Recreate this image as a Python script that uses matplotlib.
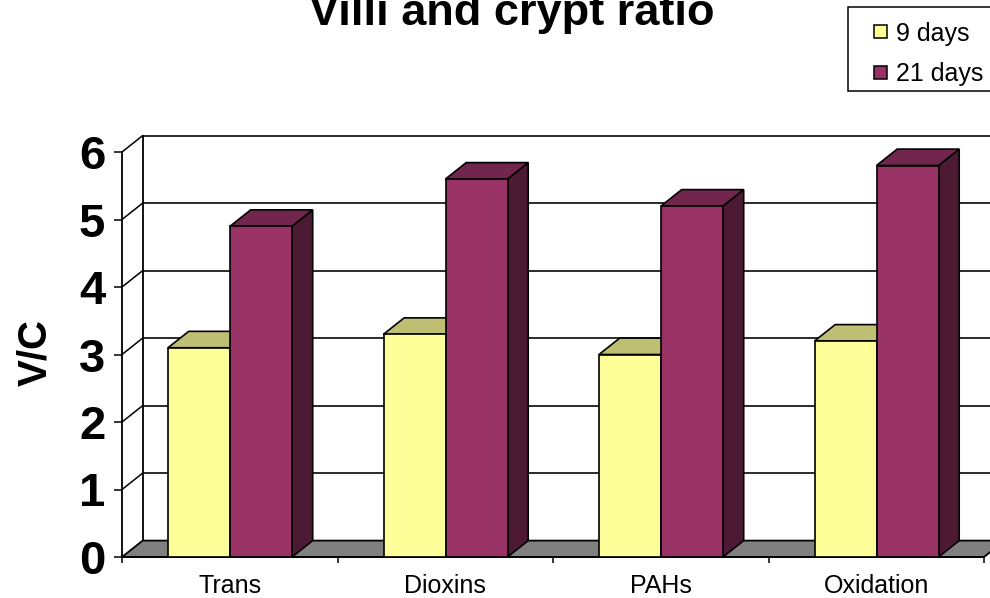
import matplotlib.pyplot as plt
from matplotlib.patches import Polygon, Rectangle

categories = ["Trans", "Dioxins", "PAHs", "Oxidation"]
series = ["9 days", "21 days"]
days_9 = [3.1, 3.3, 3.0, 3.2]
days_21 = [4.9, 5.6, 5.2, 5.8]
y_ticks = [0, 1, 2, 3, 4, 5, 6]

front_cols = ["#FFFF99", "#993366"]
top_cols = ["#BFBF73", "#73264D"]
side_cols = ["#BFBF73", "#4D1A33"]

plt.rcParams["font.family"] = ["Liberation Sans", "DejaVu Sans"]

fig = plt.figure(figsize=(9.9, 5.98), dpi=100)
W, H = 990, 598
ax = fig.add_axes([122 / W, 41 / H, 862 / W, 405 / H])
ax.set_xlim(0, len(categories))
ax.set_ylim(0, 6)

# depth offset of the 3d box, in data units
dx, dy = 0.096, 0.243
n = len(categories)
lw = 1.3

# back wall
ax.add_patch(Polygon([(dx, dy), (n + dx, dy), (n + dx, 6 + dy), (dx, 6 + dy)],
                     closed=True, facecolor="white", edgecolor="none",
                     clip_on=False, zorder=0))
for k in y_ticks[1:]:
    ax.plot([dx, n + dx], [k + dy, k + dy], color="#1a1a1a", lw=lw,
            clip_on=False, zorder=1)
    ax.plot([0, dx], [k, k + dy], color="black", lw=1.1, clip_on=False, zorder=1)
ax.plot([dx, dx], [dy, 6 + dy], color="black", lw=lw, clip_on=False, zorder=1)

# floor
ax.add_patch(Polygon([(0, 0), (n, 0), (n + dx, dy), (dx, dy)], closed=True,
                     facecolor="#808080", edgecolor="black", lw=lw,
                     clip_on=False, zorder=2))

# bars
bw = 0.2877
off = 0.2135
for i in range(n):
    for j, vals in enumerate([days_9, days_21]):
        v = vals[i]
        x0 = i + off + j * bw
        side = Polygon([(x0 + bw, 0), (x0 + bw + dx, dy), (x0 + bw + dx, v + dy),
                        (x0 + bw, v)], closed=True, facecolor=side_cols[j],
                       edgecolor="black", lw=1.2, clip_on=False, zorder=3)
        top = Polygon([(x0, v), (x0 + bw, v), (x0 + bw + dx, v + dy),
                       (x0 + dx, v + dy)], closed=True, facecolor=top_cols[j],
                      edgecolor="black", lw=1.2, clip_on=False, zorder=3)
        front = Rectangle((x0, 0), bw, v, facecolor=front_cols[j],
                          edgecolor="black", lw=1.2, clip_on=False, zorder=3)
        ax.add_patch(side)
        ax.add_patch(top)
        ax.add_patch(front)

ax.spines[["top", "right"]].set_visible(False)
ax.spines[["left", "bottom"]].set_linewidth(lw)
ax.spines["bottom"].set_zorder(2.5)
ax.set_yticks(y_ticks, labels=[str(t) for t in y_ticks])
ax.set_xticks(range(n + 1), labels=[""] * (n + 1))
ax.tick_params(axis="y", direction="out", length=6, width=1.1, pad=6,
               labelsize=34)
ax.tick_params(axis="x", direction="out", length=4.5, width=1.1)
for lab in ax.get_yticklabels():
    lab.set_fontweight("bold")

for i, c in enumerate(categories):
    ax.text(i + 0.5, -36 / 405, c, transform=ax.get_xaxis_transform(),
            ha="center", va="baseline", fontsize=18)

fig.text(35 / W, 1 - 353 / H, "V/C", rotation=90, ha="center", va="center",
         fontsize=29, fontweight="bold")
# title sits partly above the top edge, as in the original
fig.text(512 / W, 1 - 25 / H, "Villi and crypt ratio", ha="center",
         va="baseline", fontsize=32.5, fontweight="bold")

# legend box, drawn by hand so it runs off the right edge like the original
fig.add_artist(Rectangle((848 / W, 1 - 91 / H), 170 / W, 84 / H,
                         transform=fig.transFigure, facecolor="white",
                         edgecolor="black", lw=1.1))
for j, (name, yc) in enumerate(zip(series, [31, 72])):
    fig.add_artist(Rectangle((874 / W, 1 - (yc + 6.5) / H), 13 / W, 13 / H,
                             transform=fig.transFigure, facecolor=front_cols[j],
                             edgecolor="black", lw=1.1))
    fig.text(896 / W, 1 - yc / H, name, ha="left", va="center_baseline",
             fontsize=18)

fig.savefig("out.png", dpi=100)
